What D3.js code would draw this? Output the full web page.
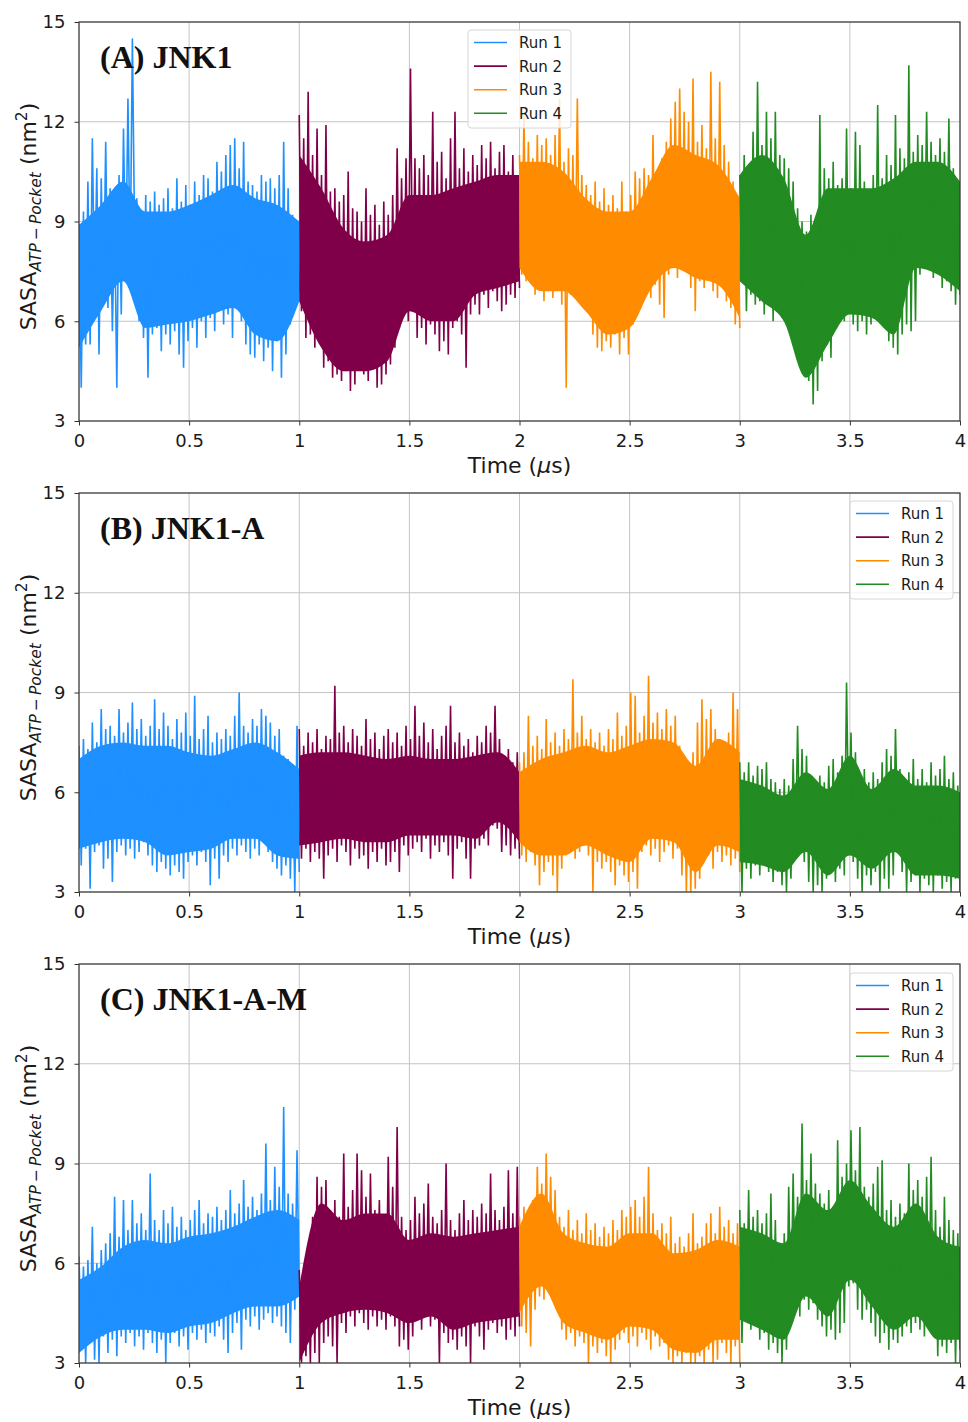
<!DOCTYPE html>
<html>
<head>
<meta charset="utf-8">
<script src="https://cdnjs.cloudflare.com/ajax/libs/d3/7.8.5/d3.min.js"></script>
<style>
  html, body { margin: 0; padding: 0; background: #ffffff; }
  svg { display: block; }
</style>
</head>
<body>
<svg id="fig" width="968" height="1422"></svg>
<script>
// ---- labels, ticks, colours ----
const runLabels = ["Run 1", "Run 2", "Run 3", "Run 4"];
const runColors = ["#1e90ff", "#7f0049", "#ff8c00", "#228b22"];
const panelTitles = ["(A) JNK1", "(B) JNK1-A", "(C) JNK1-A-M"];
const xTicks = [0, 0.5, 1, 1.5, 2, 2.5, 3, 3.5, 4];
const xTickLabels = ["0", "0.5", "1", "1.5", "2", "2.5", "3", "3.5", "4"];
const yTicks = [3, 6, 9, 12, 15];
const runStarts = [0, 1, 2, 3]; // µs, each run lasts 1 µs

// ---- SASA traces (nm^2): alternating local maxima / minima, 50 per run ----
// (A) JNK1
const jnk1Run1Max = [8.9,9.3,10.2,11.5,10.6,10.3,11.4,10.0,9.2,10.4,11.8,12.7,14.5,9.7,9.2,9.8,9.6,9.9,9.5,9.7,10.0,9.4,10.3,9.6,10.1,9.5,10.2,9.8,10.4,10.3,9.9,10.8,10.5,11.0,11.3,11.5,10.6,11.4,10.2,10.1,9.9,10.4,10.2,10.3,10.0,10.4,11.4,10.0,9.2,9.0];
const jnk1Run1Min = [4.0,5.3,5.3,6.8,5.0,6.5,6.4,5.7,4.0,6.2,7.4,7.7,8.5,6.0,5.5,4.3,5.6,5.8,5.1,5.6,5.3,5.7,5.0,4.6,5.4,5.8,5.2,6.0,5.5,6.1,5.7,6.3,5.9,6.2,5.5,6.4,6.0,5.3,5.0,4.9,5.3,4.8,5.2,4.5,5.4,4.3,5.0,5.9,6.4,6.9];
const jnk1Run2Max = [12.2,11.5,12.9,11.0,11.8,10.4,11.9,9.9,10.0,9.6,9.8,10.5,9.4,9.3,9.0,10.0,9.2,9.5,8.9,9.6,9.2,9.8,11.2,10.3,10.9,13.6,10.9,10.6,11.0,10.4,12.3,10.8,11.1,10.3,11.5,12.3,10.6,11.2,10.5,11.0,10.7,11.3,10.9,11.4,10.6,11.1,11.3,10.5,11.0,10.3];
const jnk1Run2Min = [6.3,5.5,5.6,5.2,5.7,4.6,4.8,4.3,4.4,4.2,4.5,3.9,4.1,4.7,4.4,4.2,4.6,4.0,4.1,4.4,4.7,5.2,5.8,6.2,6.0,6.5,5.5,5.8,5.3,5.9,5.6,5.1,5.4,5.0,5.8,6.0,5.6,4.6,6.2,6.5,6.2,6.8,6.4,6.9,6.6,6.3,6.5,6.8,6.7,7.0];
const jnk1Run3Max = [11.0,12.2,11.4,10.9,11.6,11.3,11.5,11.0,11.6,12.7,10.8,11.2,11.0,12.7,10.4,10.1,9.8,10.2,9.6,10.0,9.5,9.8,9.4,10.2,9.3,9.8,10.5,10.3,10.6,10.4,11.6,10.5,10.9,11.4,12.1,12.6,13.0,12.3,12.0,13.3,11.4,11.9,11.2,13.5,11.5,13.2,11.3,10.8,10.2,9.8];
const jnk1Run3Min = [7.4,7.2,7.5,6.8,7.0,6.6,6.9,6.7,7.0,6.5,4.0,6.8,7.1,6.8,6.9,6.3,5.6,5.2,5.1,5.4,5.2,5.6,5.0,5.5,5.0,5.9,6.9,6.6,7.0,6.7,7.1,6.5,6.1,7.4,7.6,7.3,7.7,7.5,7.0,6.3,7.2,7.0,7.3,6.9,6.7,7.1,6.6,6.4,5.9,5.8];
const jnk1Run4Max = [10.4,11.0,10.5,11.7,13.2,11.3,12.3,11.5,12.3,11.0,10.9,10.6,10.2,9.4,9.0,8.7,9.2,8.6,12.2,10.6,10.3,10.8,10.1,10.3,11.8,10.0,11.7,11.3,10.2,9.8,10.4,12.5,10.3,11.0,10.7,12.2,11.2,10.9,13.7,11.1,11.6,11.3,12.3,11.4,11.0,11.5,11.1,12.1,10.6,10.2];
const jnk1Run4Min = [7.2,6.3,6.8,6.5,6.6,6.2,6.5,6.0,6.4,6.1,5.9,5.6,5.4,5.1,4.6,4.2,3.5,3.9,4.8,5.3,4.9,5.8,6.2,6.0,6.4,5.9,5.7,6.0,5.6,5.9,6.4,6.1,6.3,5.4,5.2,5.0,5.6,5.9,5.7,6.0,7.4,7.6,7.8,7.3,7.5,7.0,7.2,6.9,6.5,6.8];

// (B) JNK1-A
const jnk1aRun1Max = [7.4,7.6,7.3,8.1,7.5,8.5,7.9,8.0,7.7,8.5,7.8,8.1,8.7,7.9,8.2,7.7,8.0,8.8,7.9,8.4,8.0,7.6,8.2,7.8,8.4,7.7,8.9,7.6,7.9,8.3,7.5,7.8,7.6,7.9,7.7,8.3,9.0,8.0,7.8,8.2,8.0,8.5,8.3,8.1,7.7,7.9,7.1,7.0,6.8,8.0];
const jnk1aRun1Min = [3.8,4.3,3.1,4.2,4.4,3.7,4.0,3.3,4.2,4.4,4.1,4.3,4.0,4.2,4.5,4.1,3.8,3.6,3.9,3.7,3.5,3.8,3.6,3.4,3.9,4.1,3.8,4.2,3.9,3.2,4.0,3.4,4.1,3.9,4.3,4.1,4.4,4.2,4.0,4.3,4.1,4.5,4.2,3.9,3.7,3.5,3.8,3.4,3.0,3.6];
const jnk1aRun2Max = [7.9,7.4,7.8,7.5,7.9,7.3,7.7,7.6,9.2,7.8,8.0,7.5,7.9,7.7,7.4,8.2,7.6,7.8,7.3,7.7,7.9,7.5,7.8,7.4,8.0,7.6,8.6,7.7,8.1,7.5,7.9,7.3,7.7,8.0,8.6,7.5,7.8,7.4,7.6,7.2,7.7,7.5,8.0,7.8,8.6,7.6,7.0,7.3,6.9,7.2];
const jnk1aRun2Min = [4.0,4.3,3.9,4.2,4.0,3.4,4.1,4.3,3.9,4.4,4.2,3.8,4.3,4.0,4.1,3.7,4.2,3.9,4.3,3.8,3.9,4.2,3.6,4.4,4.1,4.3,4.5,4.2,4.6,4.0,4.4,4.2,4.5,4.1,3.4,4.3,4.5,4.0,3.4,4.3,4.4,4.6,4.4,5.0,4.9,4.2,4.4,4.1,4.3,4.0];
const jnk1aRun3Max = [6.9,7.2,8.3,7.4,7.7,7.3,8.2,7.5,7.8,7.4,7.9,7.6,9.4,7.8,8.3,7.6,7.9,7.5,7.8,7.4,7.9,7.6,8.4,7.7,8.0,9.0,8.9,7.8,8.3,9.5,8.1,8.4,7.9,8.5,8.0,8.3,7.4,7.0,6.6,7.2,8.1,8.8,8.2,8.5,7.9,7.6,7.3,7.8,9.0,8.5];
const jnk1aRun3Min = [4.1,3.9,4.2,3.8,3.2,3.6,3.9,3.5,3.0,3.7,4.1,4.3,4.0,4.2,4.4,4.1,3.0,3.9,3.7,3.9,3.6,3.2,3.8,3.5,3.3,3.6,3.1,4.2,4.4,4.1,4.3,3.9,4.2,4.4,4.0,4.3,3.5,3.0,3.0,3.1,3.4,3.9,4.1,3.7,4.2,3.9,4.1,3.8,4.0,3.6];
const jnk1aRun4Max = [6.9,6.6,6.9,6.5,6.8,6.7,6.9,6.4,6.3,6.1,6.4,6.2,7.0,8.0,7.3,7.1,6.4,6.2,6.5,6.3,6.8,7.0,6.6,7.1,9.3,7.8,7.2,6.5,6.7,6.3,6.6,6.4,6.9,7.3,7.1,7.9,6.7,6.4,6.6,7.0,6.4,6.7,6.3,6.9,6.5,6.7,7.1,6.4,6.6,6.2];
const jnk1aRun4Min = [3.0,3.7,3.4,3.8,3.5,3.9,3.6,3.3,3.6,3.2,3.0,3.4,4.0,4.2,3.9,3.3,3.0,3.2,3.0,3.4,3.6,3.3,3.7,3.5,4.8,3.9,3.4,3.0,3.5,3.2,3.6,3.0,3.4,3.1,3.5,4.5,3.6,3.0,3.3,3.5,3.0,3.4,3.2,3.0,3.5,3.1,3.3,3.0,3.4,3.0];

// (C) JNK1-A-M
const jnk1amRun1Max = [6.2,5.9,6.1,7.1,6.0,6.4,6.6,6.9,8.0,6.8,7.9,7.0,7.9,7.2,7.5,7.0,8.7,7.3,7.0,7.6,7.2,7.7,7.1,7.4,7.0,7.3,7.6,7.9,7.2,7.5,7.4,7.7,7.3,7.6,8.2,7.5,7.8,8.5,7.7,8.0,7.6,8.1,9.6,7.9,8.9,8.3,10.7,8.1,7.8,9.4];
const jnk1amRun1Min = [3.5,3.0,3.6,3.1,3.0,3.8,3.3,3.7,3.2,3.8,3.6,3.9,3.5,3.8,3.4,3.9,3.6,3.3,3.7,3.0,3.6,3.9,3.5,3.8,3.4,3.9,3.7,4.0,3.6,3.9,3.8,4.1,3.7,3.3,3.9,4.2,3.4,4.3,4.1,4.4,4.0,4.3,4.5,4.2,4.4,4.1,3.9,3.6,4.6,5.1];
const jnk1amRun2Max = [5.8,5.5,6.0,7.4,8.6,8.3,8.5,7.6,7.9,7.4,9.3,7.7,8.2,9.3,8.8,8.0,8.7,7.6,7.9,7.4,9.2,8.3,10.1,7.4,7.0,7.3,8.0,7.5,7.8,8.4,7.4,7.2,7.6,9.0,7.3,7.0,7.5,7.9,7.3,7.6,7.4,7.8,7.5,8.7,7.6,7.3,7.7,8.8,7.5,8.9];
const jnk1amRun2Min = [3.0,3.2,3.0,3.3,3.0,3.6,3.8,3.5,3.0,4.2,3.9,4.4,4.1,4.5,4.2,4.0,4.4,4.1,4.3,4.0,4.4,4.1,3.5,3.7,3.4,3.8,4.3,4.0,4.4,4.1,4.3,3.0,3.9,3.6,3.7,3.4,3.8,3.5,3.0,4.1,3.8,3.4,4.0,4.2,3.9,4.1,3.7,4.0,3.8,4.1];
const jnk1amRun3Max = [7.4,7.7,7.5,7.9,8.9,8.4,9.3,8.6,8.2,7.4,7.1,7.6,7.0,7.3,6.9,7.5,7.0,7.2,6.8,7.1,6.9,7.3,7.0,7.6,7.4,7.7,7.9,7.4,8.0,8.9,7.5,7.0,7.2,6.9,7.4,6.6,6.8,6.5,6.9,7.5,6.6,6.8,7.2,7.5,6.9,7.7,7.1,7.3,6.9,7.2];
const jnk1amRun3Min = [4.1,3.9,3.5,4.6,5.0,4.9,5.4,5.0,4.8,4.0,3.7,3.9,3.5,3.8,3.6,3.0,3.5,3.3,3.6,3.2,3.0,3.4,3.7,3.9,3.6,3.8,3.5,3.9,3.7,3.4,3.8,3.5,3.6,3.1,3.0,3.2,3.0,3.3,3.0,3.0,3.2,3.0,3.4,3.0,3.1,3.6,3.3,3.0,3.5,3.0];
const jnk1amRun4Max = [7.6,7.2,8.2,7.4,7.6,7.2,7.5,8.1,7.3,6.5,6.9,8.3,8.7,8.0,10.2,8.5,9.3,8.4,8.1,7.8,8.2,7.7,9.7,8.6,9.0,10.0,8.8,10.1,8.3,8.0,8.4,8.9,9.1,7.6,7.9,7.4,7.8,7.5,9.0,8.2,8.5,8.0,8.6,9.2,7.6,7.1,8.0,7.3,7.0,6.9];
const jnk1amRun4Min = [3.6,4.3,4.0,4.4,3.7,3.9,3.4,3.6,3.3,3.0,3.4,4.5,4.7,4.4,4.9,4.6,4.8,4.3,4.1,3.8,4.0,3.7,3.9,4.2,5.3,5.4,4.6,4.3,4.6,4.2,3.8,3.6,3.9,3.4,3.7,3.6,3.8,4.1,3.9,4.2,4.0,3.8,4.1,3.9,3.2,3.5,3.3,3.6,3.0,3.4];

// ---- dense core of each trace (nm^2): upper / lower edge every 0.1 µs ----
const jnk1CoreHi  = [[8.9,9.5,10.2,9.3,9.3,9.5,9.8,10.1,9.7,9.5,9.0], [11.0,10.0,8.8,8.4,8.6,9.8,9.8,10.0,10.2,10.4,10.4],
                     [10.8,10.8,10.5,9.7,9.3,9.3,10.3,11.3,11.0,10.7,9.7], [10.4,11.0,10.3,8.6,10.0,10.0,10.0,10.3,10.8,10.8,10.2]];
const jnk1CoreLo  = [[5.2,6.3,7.2,5.8,5.9,6.0,6.2,6.4,5.6,5.4,6.6], [6.6,5.2,4.5,4.5,4.8,6.3,6.0,6.0,6.8,7.0,7.2],
                     [7.6,6.9,6.9,6.3,5.6,5.8,7.0,7.6,7.3,7.1,6.1], [7.2,6.6,6.0,4.3,5.3,6.2,6.1,5.6,7.6,7.4,6.9]];
const jnk1aCoreHi = [[7.0,7.4,7.5,7.4,7.4,7.2,7.1,7.3,7.5,7.2,6.7], [7.1,7.2,7.2,7.1,7.0,7.1,7.0,7.0,7.1,7.2,6.6],
                     [6.6,7.0,7.2,7.4,7.2,7.4,7.6,7.5,6.8,7.6,7.2], [6.4,6.2,5.9,6.6,6.1,7.1,6.1,6.7,6.2,6.2,6.0]];
const jnk1aCoreLo = [[4.3,4.5,4.6,4.5,4.1,4.2,4.3,4.6,4.6,4.1,4.0], [4.4,4.5,4.6,4.5,4.5,4.7,4.7,4.7,4.6,5.1,4.5],
                     [4.5,4.1,4.1,4.4,4.1,3.9,4.6,4.5,3.6,4.4,4.2], [3.9,3.8,3.6,4.2,3.5,4.1,3.7,4.2,3.5,3.5,3.4]];
const jnk1amCoreHi = [[5.5,5.9,6.5,6.7,6.6,6.8,6.9,7.1,7.4,7.6,7.3], [5.3,7.8,7.3,7.5,7.5,6.7,6.9,6.8,6.9,7.0,7.1],
                      [7.1,8.1,6.9,6.6,6.5,6.9,6.9,6.3,6.4,6.7,6.5], [7.1,6.9,6.6,8.1,7.6,8.5,7.7,7.1,7.8,6.8,6.5]];
const jnk1amCoreLo = [[3.3,3.8,4.0,4.0,3.9,4.1,4.2,4.5,4.7,4.7,5.0], [3.0,4.2,4.5,4.6,4.5,4.2,4.4,4.0,4.2,4.3,4.4],
                      [4.5,5.3,4.2,3.9,3.7,4.1,4.0,3.4,3.3,3.7,3.7], [4.3,4.0,3.7,5.0,4.4,5.5,4.7,4.0,4.4,3.7,3.7]];

// ---- panel assembly ----
const panels = [
  { title: panelTitles[0], top: 22,  legend: { x: 468, y: 30 }, coreHi: jnk1CoreHi, coreLo: jnk1CoreLo,
    runs: [[jnk1Run1Max, jnk1Run1Min], [jnk1Run2Max, jnk1Run2Min], [jnk1Run3Max, jnk1Run3Min], [jnk1Run4Max, jnk1Run4Min]] },
  { title: panelTitles[1], top: 493, legend: { x: 850, y: 501 }, coreHi: jnk1aCoreHi, coreLo: jnk1aCoreLo,
    runs: [[jnk1aRun1Max, jnk1aRun1Min], [jnk1aRun2Max, jnk1aRun2Min], [jnk1aRun3Max, jnk1aRun3Min], [jnk1aRun4Max, jnk1aRun4Min]] },
  { title: panelTitles[2], top: 964, legend: { x: 850, y: 973 }, coreHi: jnk1amCoreHi, coreLo: jnk1amCoreLo,
    runs: [[jnk1amRun1Max, jnk1amRun1Min], [jnk1amRun2Max, jnk1amRun2Min], [jnk1amRun3Max, jnk1amRun3Min], [jnk1amRun4Max, jnk1amRun4Min]] }
];

const plotLeft = 79, plotRight = 960, plotHeight = 399;
const font = "'DejaVu Sans', sans-serif";
const svg = d3.select("#fig");

// interleave maxima and minima into one time series spanning the run
function runSeries(maxima, minima, start) {
  const n = maxima.length;
  const count = 2 * n;
  const pts = [];
  for (let i = 0; i < n; i++) {
    pts.push({ t: start + (2 * i) / (count - 1), v: maxima[i] });
    pts.push({ t: start + (2 * i + 1) / (count - 1), v: minima[i] });
  }
  return pts;
}

// core band rows: {t, hi, lo} every 0.1 µs across the run
function coreSeries(hi, lo, start) {
  return hi.map((h, i) => ({ t: start + i / (hi.length - 1), hi: h, lo: lo[i] }));
}

panels.forEach((p, pi) => {
  const top = p.top, bottom = top + plotHeight;
  const x = d3.scaleLinear().domain([0, 4]).range([plotLeft, plotRight]);
  const y = d3.scaleLinear().domain([3, 15]).range([bottom, top]);
  const g = svg.append("g");

  const clipId = "clip" + pi;
  svg.append("clipPath").attr("id", clipId)
    .append("rect").attr("x", plotLeft).attr("y", top)
    .attr("width", plotRight - plotLeft).attr("height", plotHeight);

  // grid
  g.append("g").selectAll("line").data(xTicks).join("line")
    .attr("x1", d => x(d)).attr("x2", d => x(d))
    .attr("y1", top).attr("y2", bottom)
    .attr("stroke", "#c4c4c4").attr("stroke-width", 1);
  g.append("g").selectAll("line").data(yTicks).join("line")
    .attr("x1", plotLeft).attr("x2", plotRight)
    .attr("y1", d => y(d)).attr("y2", d => y(d))
    .attr("stroke", "#c4c4c4").attr("stroke-width", 1);

  // traces
  const line = d3.line().x(d => x(d.t)).y(d => y(d.v));
  const band = d3.area().curve(d3.curveMonotoneX)
    .x(d => x(d.t)).y0(d => y(d.lo)).y1(d => y(d.hi));
  const traces = g.append("g").attr("clip-path", `url(#${clipId})`);
  p.runs.forEach((r, ri) => {
    traces.append("path")
      .datum(coreSeries(p.coreHi[ri], p.coreLo[ri], runStarts[ri]))
      .attr("d", band)
      .attr("fill", runColors[ri]);
    traces.append("path")
      .datum(runSeries(r[0], r[1], runStarts[ri]))
      .attr("d", line)
      .attr("fill", "none")
      .attr("stroke", runColors[ri])
      .attr("stroke-width", 1.6)
      .attr("stroke-linejoin", "miter")
      .attr("stroke-miterlimit", 1.5);
  });

  // axes
  const xAxis = d3.axisBottom(x).tickValues(xTicks)
    .tickFormat((d, i) => xTickLabels[i]).tickSize(4.5).tickPadding(9);
  const yAxis = d3.axisLeft(y).tickValues(yTicks).tickSize(4.5).tickPadding(9);
  const gx = g.append("g").attr("transform", `translate(0,${bottom})`).call(xAxis);
  const gy = g.append("g").attr("transform", `translate(${plotLeft},0)`).call(yAxis);
  [gx, gy].forEach(a => {
    a.select(".domain").remove();
    a.selectAll(".tick line").attr("stroke", "#333").attr("stroke-width", 1);
    a.selectAll(".tick text").attr("fill", "#1a1a1a")
      .style("font-family", font).style("font-size", "18px");
  });

  // frame
  g.append("rect").attr("x", plotLeft).attr("y", top)
    .attr("width", plotRight - plotLeft).attr("height", plotHeight)
    .attr("fill", "none").attr("stroke", "#3a3a3a").attr("stroke-width", 1.2);

  // x label
  const xl = g.append("text")
    .attr("x", (plotLeft + plotRight) / 2).attr("y", bottom + 52)
    .attr("text-anchor", "middle").attr("fill", "#1a1a1a")
    .style("font-family", font).style("font-size", "22px");
  xl.append("tspan").text("Time (");
  xl.append("tspan").style("font-style", "italic").text("\u03bc");
  xl.append("tspan").text("s)");

  // y label
  const yl = g.append("text")
    .attr("transform", `translate(36,${(top + bottom) / 2 - 5}) rotate(-90)`)
    .attr("text-anchor", "middle").attr("fill", "#1a1a1a")
    .style("font-family", font).style("font-size", "22px");
  yl.append("tspan").text("SASA");
  yl.append("tspan").attr("dy", 5).style("font-size", "15.5px").style("font-style", "italic")
    .text("ATP\u2009\u2212\u2009Pocket");
  yl.append("tspan").attr("dy", -5).text(" (nm");
  yl.append("tspan").attr("dy", -9).style("font-size", "15.5px").text("2");
  yl.append("tspan").attr("dy", 9).text(")");

  // panel title
  g.append("text").attr("x", 100).attr("y", top + 46)
    .attr("fill", "#111")
    .style("font-family", "'Liberation Serif', 'Times New Roman', serif")
    .style("font-weight", "bold").style("font-size", "32px")
    .text(p.title);

  // legend
  const lg = g.append("g").attr("transform", `translate(${p.legend.x},${p.legend.y})`);
  lg.append("rect").attr("width", 103).attr("height", 98).attr("rx", 3)
    .attr("fill", "#ffffff").attr("fill-opacity", 0.8)
    .attr("stroke", "#d6d6d6").attr("stroke-width", 1);
  runLabels.forEach((lab, i) => {
    const cy = 12.5 + i * 23.6;
    lg.append("line").attr("x1", 6).attr("x2", 39).attr("y1", cy).attr("y2", cy)
      .attr("stroke", runColors[i]).attr("stroke-width", 1.6);
    lg.append("text").attr("x", 51).attr("y", cy + 5.5)
      .attr("fill", "#1a1a1a")
      .style("font-family", font).style("font-size", "15px")
      .text(lab);
  });
});
</script>
</body>
</html>
